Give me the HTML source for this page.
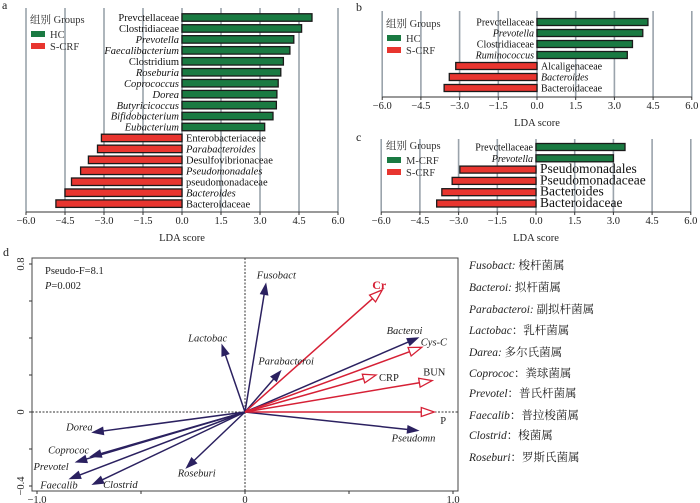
<!DOCTYPE html>
<html><head><meta charset="utf-8">
<style>
html,body{margin:0;padding:0;background:#fff;}
svg{display:block;font-family:"Liberation Serif","Noto Serif CJK SC","Noto Sans CJK SC",serif;}
</style></head>
<body>
<svg id="fig" width="700" height="503" viewBox="0 0 700 503" xmlns="http://www.w3.org/2000/svg"></svg>
<script>
// ---------- Panel a data ----------
const aLabels = ["Prevctellaceae","Clostridiaceae","Prevotella","Faecalibacterium","Clostridium","Roseburia","Coprococcus","Dorea","Butyricicoccus","Bifidobacterium","Eubacterium","Enterobacteriaceae","Parabacteroides","Desulfovibrionaceae","Pseudomonadales","pseudomonadaceae","Bacteroides","Bacteroidaceae"];
const aValues = [5.0,4.6,4.3,4.15,3.9,3.8,3.7,3.65,3.63,3.5,3.18,-3.1,-3.25,-3.6,-3.9,-4.25,-4.5,-4.85];
const aItalic = [0,0,1,1,0,1,1,1,1,1,1,0,1,0,1,0,1,0];
// ---------- Panel b data ----------
const bLabels = ["Prevctellaceae","Prevotella","Clostridiaceae","Ruminococcus","Alcaligenaceae","Bacteroides","Bacteroidaceae"];
const bValues = [4.3,4.1,3.7,3.5,-3.15,-3.4,-3.6];
const bItalic = [0,1,0,1,0,1,0];
// ---------- Panel c data ----------
const cLabels = ["Prevctellaceae","Prevotella","Pseudomonadales","Pseudomonadaceae","Bacteroides","Bacteroidaceae"];
const cValues = [3.45,3.0,-2.95,-3.25,-3.65,-3.85];
const cItalic = [0,1,0,0,0,0];
const ldaTicks = ["−6.0","−4.5","−3.0","−1.5","0.0","1.5","3.0","4.5","6.0"];
const ldaTickVals = [-6,-4.5,-3,-1.5,0,1.5,3,4.5,6];
// ---------- Panel d data ----------
const spNames = ["Fusobact","Lactobac","Parabacteroi","Bacteroi","Pseudomn","Roseburi","Clostrid","Faecalib","Prevotel","Coprococ","Dorea"];
const spX = [0.10,-0.11,0.17,0.83,0.83,-0.28,-0.73,-0.84,-0.81,-0.74,-0.73];
const spY = [0.69,0.36,0.22,0.40,-0.10,-0.30,-0.39,-0.36,-0.27,-0.24,-0.11];
const envNames = ["Cr","Cys-C","CRP","BUN","P"];
const envX = [0.66,0.85,0.63,0.90,0.91];
const envY = [0.66,0.35,0.20,0.17,0.0];
const dXTicks = ["−1.0","0","1.0"];
const dXTickVals = [-1,0,1];
const dYTicks = ["0.8","0","−0.4"];
const dYTickVals = [0.8,0,-0.4];

const NS="http://www.w3.org/2000/svg";
const svg=document.getElementById('fig');
function el(tag,attrs,parent,text){const e=document.createElementNS(NS,tag);for(const k in attrs)e.setAttribute(k,attrs[k]);if(text!==undefined)e.textContent=text;(parent||svg).appendChild(e);return e;}

function ldaPanel(id,cfg,labels,values,italic){
  const g=el('g',{});
  
  
  const xs=v=>cfg.x0+v*cfg.unit;
  const ys=i=>cfg.yFirst+i*cfg.step;
  // gridlines
  ldaTickVals.forEach((v,i)=>{
    const gl=el('line',{x1:xs(v),x2:xs(v),y1:cfg.gridTop,y2:cfg.axisY,stroke:'#9aa3ab','stroke-width':1.6},g);
    
    
  });
  // axis
  const ax=el('line',{x1:xs(-6),x2:xs(6),y1:cfg.axisY,y2:cfg.axisY,stroke:'#333','stroke-width':1},g);
  
  
  ldaTickVals.forEach((v,i)=>{
    el('line',{x1:xs(v),x2:xs(v),y1:cfg.axisY,y2:cfg.axisY+3,stroke:'#333'},g);
    const t=el('text',{x:xs(v),y:cfg.axisY+12,'font-size':10.5,'text-anchor':'middle',fill:'#222'},g,ldaTicks[i]);
    
    
  });
  const xt=el('text',{x:xs(0),y:cfg.axisY+29,'font-size':10.5,'text-anchor':'middle',fill:'#222'},g,'LDA score');
  
  
  // bars
  values.forEach((v,i)=>{
    const y=ys(i);
    const x1=Math.min(xs(0),xs(v)),w=Math.abs(xs(v)-xs(0));
    const b=el('rect',{x:x1,y:y-cfg.bh/2,width:w,height:cfg.bh,fill:v>0?'#1a7a42':'#e8352f',stroke:'#1a1a1a','stroke-width':1.3},g);
    
    
    const lx=v>0?xs(0)-3:xs(0)+4;
    const t=el('text',{x:lx,y:y+cfg.fs*0.35,'font-size':v<0&&cfg.bigNeg?cfg.bigNeg:cfg.fs,'text-anchor':v>0?'end':'start',fill:'#111','font-style':italic[i]?'italic':'normal'},g,labels[i]);
    
    
  });
  // legend
  const lt=el('text',{x:cfg.legX,y:cfg.legY,'font-size':10.5,fill:'#333'},g,'组别 Groups');
  
  
  cfg.groups.forEach((name,i)=>{
    const yy=cfg.legY+15+i*12;
    const r=el('rect',{x:cfg.legX+1,y:yy-7,width:14,height:6,fill:i===0?'#1a7a42':'#e8352f'},g);
    
    
    const t=el('text',{x:cfg.legX+20,y:yy,'font-size':10.5,fill:'#333'},g,name);
    
    
  });
  const pl=el('text',{x:cfg.pl[0],y:cfg.pl[1],'font-size':12,fill:'#222'},g,cfg.letter);
  
  
}

ldaPanel('panel-a',{x0:182,unit:26,yFirst:17.5,step:10.95,bh:7.5,axisY:212,gridTop:8,fs:10.5,legX:30,legY:23,groups:['HC','S-CRF'],letter:'a',pl:[2,9]},aLabels,aValues,aItalic);
ldaPanel('panel-b',{x0:537,unit:25.8,yFirst:22,step:11,bh:7,axisY:97,gridTop:11,fs:10,legX:386,legY:27,groups:['HC','S-CRF'],letter:'b',pl:[356,11]},bLabels,bValues,bItalic);
ldaPanel('panel-c',{x0:536,unit:25.8,yFirst:147,step:11.3,bh:7,axisY:212,gridTop:139,fs:10,bigNeg:13.5,legX:386,legY:149,groups:['M-CRF','S-CRF'],letter:'c',pl:[356,141]},cLabels,cValues,cItalic);

// ---------- Panel d ----------
(function(){
  const g=el('g',{});
  
  
  const ox=245,oy=412,ux=208,uy=185;
  const xs=v=>ox+v*ux, ys=v=>oy-v*uy;
  const box=el('rect',{x:32,y:258,width:426,height:233,fill:'none',stroke:'#444','stroke-width':1},g);
  
  
  el('line',{x1:32,x2:458,y1:oy,y2:oy,stroke:'#333','stroke-dasharray':'2,1.5','stroke-width':1},g);
  el('line',{x1:ox,x2:ox,y1:258,y2:491,stroke:'#333','stroke-dasharray':'2,1.5','stroke-width':1},g);
  for(let v=-0.4;v<=0.81;v+=0.2){el('line',{x1:29,x2:32,y1:ys(v),y2:ys(v),stroke:'#333'},g);}
  for(let v=-1;v<=1.01;v+=0.5){el('line',{x1:xs(v),x2:xs(v),y1:491,y2:494,stroke:'#333'},g);}
  dYTickVals.forEach((v,i)=>{
    const t=el('text',{x:0,y:0,'font-size':10.5,'text-anchor':'middle',fill:'#222',transform:`translate(24,${ys(v)}) rotate(-90)`},g,dYTicks[i]);
    
    
  });
  dXTickVals.forEach((v,i)=>{
    const t=el('text',{x:xs(v),y:503,'font-size':10.5,'text-anchor':'middle',fill:'#222'},g,dXTicks[i]);
    
    
  });
  function arrow(x,y,color,open,name){
    const x2=xs(x),y2=ys(y),ang=Math.atan2(y2-oy,x2-ox),L=Math.hypot(x2-ox,y2-oy);
    const hl=open?13:10,hw=open?4.5:3.5;
    const bx=x2-hl*Math.cos(ang),by=y2-hl*Math.sin(ang);
    const l=el('line',{x1:ox,y1:oy,x2:open?bx:x2-4*Math.cos(ang),y2:open?by:y2-4*Math.sin(ang),stroke:color,'stroke-width':1.5},g);
    
    
    const px=-Math.sin(ang),py=Math.cos(ang);
    const h=el('polygon',{points:`${x2},${y2} ${bx+px*hw},${by+py*hw} ${bx-px*hw},${by-py*hw}`,fill:open?'#fff':color,stroke:color,'stroke-width':1.3},g);
    
    
  }
  spX.forEach((x,i)=>arrow(x,spY[i],'#2b2160',false,spNames[i]));
  envX.forEach((x,i)=>arrow(x,envY[i],'#d62035',true,envNames[i]));
  // label offsets (px, relative to arrow tip)
  const spOff=[[-9,-6],[-34,-4],[-22,-48],[-31,-4],[-26,11],[-9,9],[10,4],[-30,10],[-43,8],[-43,-3],[-27,-2]];
  spNames.forEach((n,i)=>{
    let dx=spOff[i][0],dy=spOff[i][1];
    if(n==='Parabacteroi'){dx=-22;dy=-7;}
    const t=el('text',{x:xs(spX[i])+dx,y:ys(spY[i])+dy,'font-size':10.5,'font-style':'italic',fill:'#222'},g,n);
    
    
  });
  const envOff=[[-10,-1],[-1,-2],[3,6],[-9,-5],[6,12]];
  envNames.forEach((n,i)=>{
    const t=el('text',{x:xs(envX[i])+envOff[i][0],y:ys(envY[i])+envOff[i][1],'font-size':n==='Cr'?12:10.5,'font-weight':n==='Cr'?'bold':'normal','font-style':n==='Cys-C'?'italic':'normal',fill:n==='Cr'?'#d62035':'#222'},g,n);
    
    
  });
  const s1=el('text',{x:45,y:274,'font-size':10.5,fill:'#222'},g,'Pseudo-F=8.1');
  
  
  const s2=el('text',{x:45,y:289,'font-size':10.5,fill:'#222'},g);
  
  
  el('tspan',{'font-style':'italic'},s2,'P');
  el('tspan',{},s2,'=0.002');
  const dl=el('text',{x:3,y:256,'font-size':12,fill:'#222'},g,'d');
  
  
  // key
  const key=[["Fusobact: ","梭杆菌属"],["Bacteroi: ","拟杆菌属"],["Parabacteroi: ","副拟杆菌属"],["Lactobac","：乳杆菌属"],["Darea: ","多尔氏菌属"],["Coprococ","：粪球菌属"],["Prevotel","：普氏杆菌属"],["Faecalib","：普拉梭菌属"],["Clostrid","：梭菌属"],["Roseburi","：罗斯氏菌属"]];
  const keyY=[269,291,313,334,356,377,397,419,439,461];
  key.forEach((k,i)=>{
    const t=el('text',{x:469,y:keyY[i],'font-size':11.5,fill:'#222'},g);
    
    
    el('tspan',{'font-style':'italic'},t,k[0]);
    el('tspan',{},t,k[1]);
  });
})();
</script>
</body></html>
